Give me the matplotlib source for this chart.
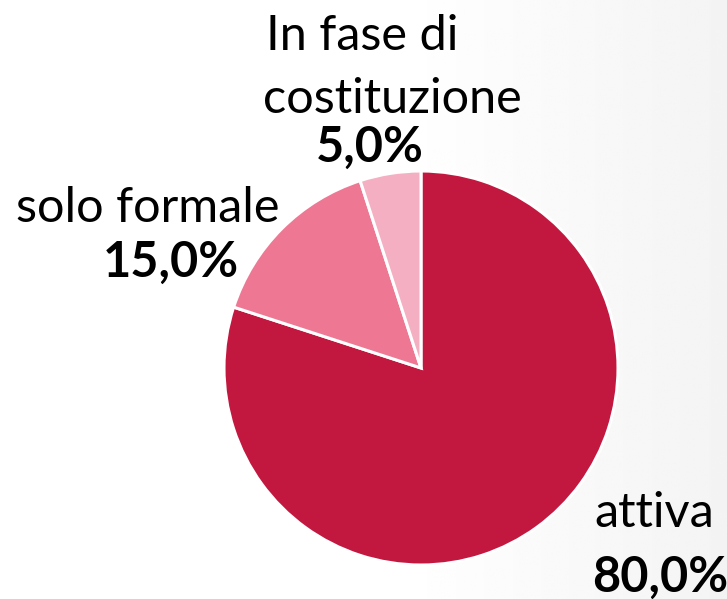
import numpy as np
import matplotlib
matplotlib.use("Agg")
import matplotlib.pyplot as plt

categories = ["attiva", "solo formale", "In fase di\ncostituzione"]
values = [80.0, 15.0, 5.0]
value_labels = ["80,0%", "15,0%", "5,0%"]
colors = ["#C21840", "#EE7893", "#F5AFC2"]

W, H = 727, 599
fig = plt.figure(figsize=(W / 100, H / 100), dpi=100)

# soft background gradient (white -> light grey to the right)
bg = fig.add_axes([0, 0, 1, 1], zorder=-10)
grad = np.linspace(0, 1, 256)
g = np.clip((grad - 0.55) / 0.45, 0, 1)
img = 1.0 - 0.045 * g
bg.imshow(np.tile(img, (10, 1)), cmap="gray", vmin=0, vmax=1, aspect="auto",
          extent=[0, 1, 0, 1])
bg.set_axis_off()

cx, cy, r = 421, 368, 197
ax = fig.add_axes([(cx - r) / W, 1 - (cy + r) / H, 2 * r / W, 2 * r / H])
ax.pie(values, colors=colors, startangle=90, counterclock=False,
       wedgeprops=dict(edgecolor="white", linewidth=2.2))
ax.set_xlim(-1, 1)
ax.set_ylim(-1, 1)
ax.set_aspect("equal")
ax.set_axis_off()

font = "Lato"
fs = 35

def put(x, y, s, bold=False):
    fig.text(x / W, 1 - y / H, s, fontsize=fs, family=font,
             fontweight="bold" if bold else "normal",
             ha="center", va="baseline", color="black")

# In fase di costituzione
put(362, 50, "In fase di")
put(392, 113, "costituzione")
put(370, 162, value_labels[2], bold=True)
# solo formale
put(148, 222, categories[1])
put(171, 277, value_labels[1], bold=True)
# attiva
put(654, 527, categories[0])
put(660, 592, value_labels[0], bold=True)

fig.savefig("out.png", dpi=100)
